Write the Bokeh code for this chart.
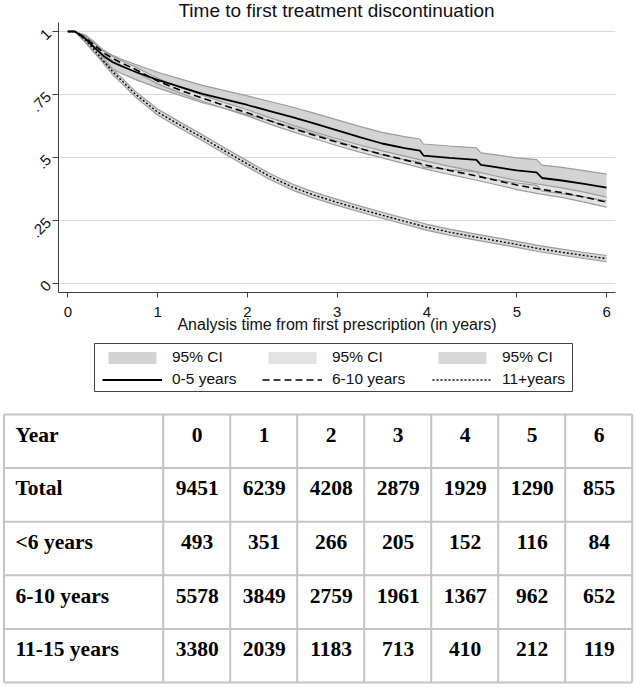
import math
from bokeh.plotting import figure
from bokeh.models import Range1d, Legend, LegendItem, FixedTicker, Label
from bokeh.core.properties import value
from bokeh.embed import file_html
from bokeh.resources import INLINE

# ---------------- data ----------------
# 0-5 years (solid)
t_a = [0, 0.08, 0.2, 0.3, 0.4, 0.5, 0.6, 0.75, 1.0, 1.25, 1.5, 1.75, 2.0, 2.25, 2.5, 2.75, 3.0,
       3.25, 3.5, 3.75, 3.92, 3.96, 4.25, 4.55, 4.6, 4.75, 5.0, 5.22, 5.28, 5.5, 5.75, 6.0]
s_a = [1.0, 1.0, 0.97, 0.935, 0.902, 0.878, 0.862, 0.84, 0.808, 0.78, 0.752, 0.73, 0.708, 0.684,
       0.66, 0.634, 0.607, 0.58, 0.555, 0.537, 0.527, 0.507, 0.498, 0.49, 0.47, 0.462, 0.448, 0.44,
       0.418, 0.408, 0.395, 0.38]
u_a = [1.0, 1.0, 0.985, 0.957, 0.925, 0.905, 0.89, 0.87, 0.838, 0.812, 0.786, 0.765, 0.744, 0.722,
       0.700, 0.675, 0.649, 0.623, 0.599, 0.582, 0.573, 0.553, 0.545, 0.538, 0.518, 0.511, 0.498,
       0.491, 0.469, 0.460, 0.447, 0.433]
l_a = [1.0, 1.0, 0.955, 0.913, 0.88, 0.85, 0.833, 0.81, 0.776, 0.746, 0.717, 0.694, 0.670, 0.645,
       0.619, 0.592, 0.565, 0.537, 0.51, 0.491, 0.481, 0.461, 0.451, 0.442, 0.422, 0.413, 0.398,
       0.389, 0.367, 0.356, 0.343, 0.327]

# 6-10 years (dashed)
t_b = [0, 0.08, 0.2, 0.3, 0.4, 0.5, 0.6, 0.75, 1.0, 1.25, 1.5, 1.75, 2.0, 2.25, 2.5, 2.75, 3.0,
       3.25, 3.5, 3.75, 4.0, 4.25, 4.5, 4.75, 5.0, 5.25, 5.5, 5.75, 6.0]
s_b = [1.0, 1.0, 0.975, 0.945, 0.915, 0.893, 0.875, 0.85, 0.803, 0.767, 0.735, 0.705, 0.677, 0.645,
       0.615, 0.587, 0.56, 0.535, 0.512, 0.49, 0.468, 0.448, 0.43, 0.41, 0.39, 0.374, 0.36, 0.342,
       0.322]
u_b = [1.0, 1.0, 0.979, 0.951, 0.922, 0.901, 0.884, 0.86, 0.814, 0.778, 0.747, 0.717, 0.689, 0.658,
       0.628, 0.6, 0.574, 0.549, 0.526, 0.505, 0.484, 0.464, 0.447, 0.427, 0.408, 0.393, 0.379,
       0.362, 0.342]
l_b = [1.0, 1.0, 0.971, 0.939, 0.908, 0.885, 0.866, 0.84, 0.792, 0.756, 0.723, 0.693, 0.665, 0.632,
       0.602, 0.574, 0.546, 0.521, 0.498, 0.475, 0.452, 0.432, 0.413, 0.393, 0.372, 0.355, 0.341,
       0.322, 0.302]

# 11+ years (dotted)
t_c = [0, 0.08, 0.2, 0.3, 0.4, 0.5, 0.6, 0.75, 1.0, 1.25, 1.5, 1.75, 2.0, 2.25, 2.5, 2.75, 3.0,
       3.25, 3.5, 3.75, 4.0, 4.25, 4.5, 4.75, 5.0, 5.25, 5.5, 5.75, 6.0]
s_c = [1.0, 1.0, 0.965, 0.925, 0.882, 0.84, 0.805, 0.752, 0.68, 0.628, 0.578, 0.525, 0.474, 0.424,
       0.382, 0.349, 0.321, 0.295, 0.27, 0.246, 0.222, 0.203, 0.186, 0.17, 0.154, 0.137, 0.123,
       0.11, 0.098]
u_c = [1.0, 1.0, 0.973, 0.935, 0.893, 0.851, 0.816, 0.763, 0.692, 0.64, 0.59, 0.537, 0.486, 0.436,
       0.394, 0.361, 0.333, 0.307, 0.282, 0.258, 0.234, 0.215, 0.198, 0.182, 0.166, 0.149, 0.135,
       0.122, 0.11]
l_c = [1.0, 1.0, 0.957, 0.915, 0.871, 0.829, 0.794, 0.741, 0.668, 0.616, 0.566, 0.513, 0.462, 0.412,
       0.37, 0.337, 0.309, 0.283, 0.258, 0.234, 0.21, 0.191, 0.174, 0.158, 0.142, 0.125, 0.111,
       0.098, 0.086]

series_labels = ["0-5 years", "6-10 years", "11+years"]
ci_label = "95% CI"
x_ticks = [0, 1, 2, 3, 4, 5, 6]
y_ticks = [0, 0.25, 0.5, 0.75, 1]
y_tick_labels = ["0", ".25", ".5", ".75", "1"]

# table
table_header = ["Year", "0", "1", "2", "3", "4", "5", "6"]
row_labels = ["Total", "<6 years", "6-10 years", "11-15 years"]
n_total = [9451, 6239, 4208, 2879, 1929, 1290, 855]
n_lt6 = [493, 351, 266, 205, 152, 116, 84]
n_6_10 = [5578, 3849, 2759, 1961, 1367, 962, 652]
n_11_15 = [3380, 2039, 1183, 713, 410, 212, 119]

SANS = "Liberation Sans"
SERIF = "Liberation Serif"
band_cols = ["#d3d3d3", "#e3e3e3", "#d8d8d8"]
edge_col = "#9c9c9c"
dashes = ["solid", "7 4", "2 2"]
widths = [1.8, 1.6, 1.4]

# ---------------- survival plot ----------------
Y_TOP_FRAME = 1.1232   # frame extends to the top of the canvas (title lives inside it)
p = figure(width=636, height=336, x_range=Range1d(-0.1036, 6.099),
           y_range=Range1d(-0.037, Y_TOP_FRAME),
           output_backend="svg", toolbar_location=None,
           min_border_left=58, min_border_right=21, min_border_top=0, min_border_bottom=44)
p.outline_line_color = None
p.background_fill_color = "white"
p.xgrid.visible = False
p.ygrid.grid_line_color = "#d9d9d9"
p.ygrid.grid_line_width = 1

p.xaxis.ticker = FixedTicker(ticks=x_ticks)
p.yaxis.ticker = FixedTicker(ticks=y_ticks)
p.yaxis.bounds = (-0.037, 1.0358)
p.yaxis.major_label_overrides = {k: v for k, v in zip(y_ticks, y_tick_labels)}
p.yaxis.major_label_orientation = math.pi / 4
for ax in (p.xaxis[0], p.yaxis[0]):
    ax.axis_line_color = "#404040"
    ax.major_tick_line_color = "#404040"
    ax.major_tick_in = 0
    ax.minor_tick_line_color = None
    ax.major_label_text_font = SANS
    ax.major_label_text_font_size = "15px"
    ax.major_label_text_color = "#111111"
p.xaxis.major_tick_out = 5
p.yaxis.major_tick_out = 6
p.xaxis.major_label_standoff = 9
p.yaxis.major_label_standoff = 4
p.xaxis.axis_label = "Analysis time from first prescription (in years)"
p.xaxis.axis_label_text_font = SANS
p.xaxis.axis_label_text_font_size = "16px"
p.xaxis.axis_label_text_font_style = "normal"
p.xaxis.axis_label_text_color = "#111111"
p.xaxis.axis_label_standoff = -4

p.varea(x=t_a, y1=l_a, y2=u_a, fill_color=band_cols[0])
p.varea(x=t_b, y1=l_b, y2=u_b, fill_color=band_cols[1])
p.varea(x=t_c, y1=l_c, y2=u_c, fill_color=band_cols[2])
for tt, yy in ((t_a, u_a), (t_a, l_a), (t_b, u_b), (t_b, l_b), (t_c, u_c), (t_c, l_c)):
    p.line(tt, yy, line_color=edge_col, line_width=1.2)

p.line(t_a, s_a, line_color="black", line_width=widths[0], line_dash=dashes[0])
p.line(t_b, s_b, line_color="black", line_width=widths[1], line_dash=dashes[1])
p.line(t_c, s_c, line_color="black", line_width=widths[2], line_dash=dashes[2])

title = Label(x=278, y=282.5, x_units="screen", y_units="screen",
              text="Time to first treatment discontinuation", text_align="center",
              text_baseline="alphabetic", text_font=SANS, text_font_size="19px",
              text_color="#111111")
p.add_layout(title)

# ---------------- legend strip (data coords = page pixels) ----------------
lg = figure(width=636, height=60, x_range=Range1d(0, 636), y_range=Range1d(396, 336),
            output_backend="svg", toolbar_location=None,
            x_axis_location=None, y_axis_location=None,
            min_border=0, min_border_left=0, min_border_right=0, min_border_top=0, min_border_bottom=0)
lg.outline_line_color = None
lg.grid.visible = False
# legend proxies: same series, they fall outside this strip's visible range
band_r = [lg.varea(x=tt, y1=ll, y2=uu, fill_color=c)
          for tt, ll, uu, c in ((t_a, l_a, u_a, band_cols[0]), (t_b, l_b, u_b, band_cols[1]),
                                (t_c, l_c, u_c, band_cols[2]))]
line_r = [lg.line(x=tt, y=ss, line_color="black", line_width=w, line_dash=d)
          for tt, ss, w, d in ((t_a, s_a, widths[0], dashes[0]), (t_b, s_b, widths[1], dashes[1]),
                               (t_c, s_c, widths[2], dashes[2]))]
lg.quad(left=[94], right=[572], top=[343], bottom=[391], fill_color=None,
        line_color="#404040", line_width=1)
col_x = [102, 262, 432]
for i in range(3):
    leg = Legend(items=[LegendItem(label=ci_label, renderers=[band_r[i]]),
                        LegendItem(label=series_labels[i], renderers=[line_r[i]])],
                 orientation="vertical")
    leg.location = (col_x[i], 8)
    leg.margin = 0
    leg.padding = 0
    leg.spacing = 4
    leg.glyph_width = 60
    leg.glyph_height = 15
    leg.label_height = 15
    leg.label_standoff = 10
    leg.label_text_font = SANS
    leg.label_text_font_size = "15.5px"
    leg.label_text_color = "#111111"
    leg.border_line_color = None
    leg.background_fill_alpha = 0
    lg.add_layout(leg, "center")

# ---------------- table ----------------
TW, TH = 636, 291
tb = figure(width=TW, height=TH, x_range=Range1d(0, TW), y_range=Range1d(TH, 0),
            output_backend="svg", toolbar_location=None,
            x_axis_location=None, y_axis_location=None,
            min_border=0, min_border_left=0, min_border_right=0, min_border_top=0, min_border_bottom=0)
tb.outline_line_color = None
tb.grid.visible = False

left, first_w, col_w = 3.5, 159.2, 67.0
top, row_h = 18, 53.6
n_cols = len(n_total)
n_rows = 1 + len(row_labels)
col_edges = [left, left + first_w] + [left + first_w + col_w * (i + 1) for i in range(n_cols)]
row_edges = [top + row_h * i for i in range(n_rows + 1)]

tb.segment(x0=[left] * len(row_edges), x1=[col_edges[-1]] * len(row_edges),
           y0=row_edges, y1=row_edges, line_color="#c4c4c4", line_width=2)
tb.segment(x0=col_edges, x1=col_edges, y0=[row_edges[0]] * len(col_edges),
           y1=[row_edges[-1]] * len(col_edges), line_color="#c4c4c4", line_width=2)

rows = [n_total, n_lt6, n_6_10, n_11_15]
lab_x, lab_y, lab_t = [], [], []
num_x, num_y, num_t = [], [], []
for r in range(n_rows):
    base = row_edges[r] + 20.3
    lab_x.append(left + 11.5)
    lab_y.append(base)
    lab_t.append(table_header[0] if r == 0 else row_labels[r - 1])
    for c in range(n_cols):
        num_x.append((col_edges[c + 1] + col_edges[c + 2]) / 2 + 0.5)
        num_y.append(base)
        num_t.append(table_header[c + 1] if r == 0 else str(rows[r - 1][c]))

tb.text(x=lab_x, y=lab_y, text=lab_t, text_font=value(SERIF), text_font_size="21.5px",
        text_font_style="bold", text_baseline="alphabetic", text_align="left", text_color="black")
tb.text(x=num_x, y=num_y, text=num_t, text_font=value(SERIF), text_font_size="21.5px",
        text_font_style="bold", text_baseline="alphabetic", text_align="center", text_color="black")

open("out.html", "w").write(file_html([p, lg, tb], INLINE))
